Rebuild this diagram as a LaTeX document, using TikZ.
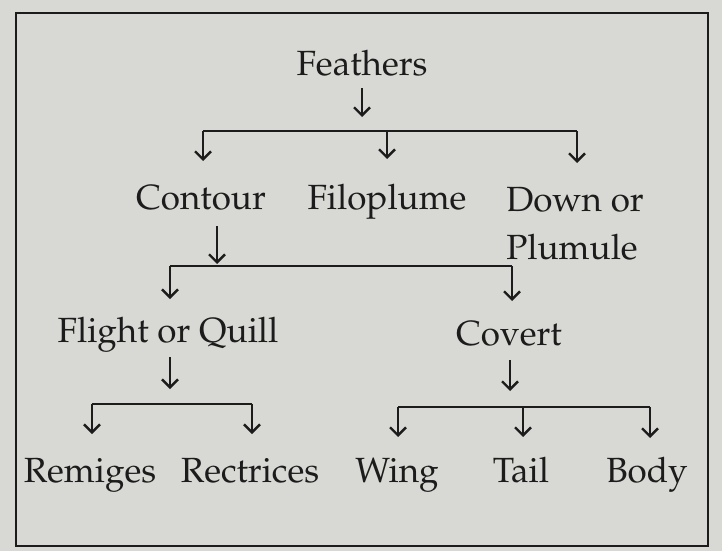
\documentclass[tikz,border=0pt]{standalone}
\usepackage[T1]{fontenc}
\usepackage{mathpazo}
\usetikzlibrary{arrows.meta}
\definecolor{paper}{RGB}{216,216,212}
\definecolor{ink}{RGB}{28,28,28}
\tikzset{
  lbl/.style={anchor=base, inner sep=0pt, text=ink, font=\fontsize{35}{40}\selectfont},
  ln/.style={draw=ink, line width=2.8pt},
  arr/.style={draw=ink, line width=2.4pt, -{Straight Barb[length=8pt,width=16pt,line width=2.4pt]}},
}
\begin{document}
\begin{tikzpicture}[x=1pt,y=-1pt]
\fill[paper] (0,0) rectangle (722,551);
\useasboundingbox (0,0) rectangle (722,551);
\draw[ink, line width=2.8pt] (16,13) rectangle (708,546);
% nodes
\node[lbl] (feathers) at (362,75) {Feathers};
\node[lbl] (contour) at (201,209) {Contour};
\node[lbl] (filo) at (387,209) {Filoplume};
\node[lbl] (down) at (575,211) {Down or};
\node[lbl] (plum) at (572,259) {Plumule};
\node[lbl] (flight) at (168,342) {Flight or Quill};
\node[lbl] (covert) at (509,345) {Covert};
\node[lbl] (rem) at (90,482) {Remiges};
\node[lbl] (rec) at (250,482) {Rectrices};
\node[lbl] (wing) at (397,482) {Wing};
\node[lbl] (tail) at (521,482) {Tail};
\node[lbl] (body) at (647,482) {Body};
% level 1
\coordinate (f0) at (362,88); \coordinate (f1) at (362,117);
\draw[arr] (f0) -- (f1);
\coordinate (a1) at (203,131); \coordinate (a2) at (387,131); \coordinate (a3) at (577,131);
\draw[ln] (a1) -- (a3);
\draw[arr] (a1) -- (203,161);
\draw[arr] (a2) -- (387,159);
\draw[arr] (a3) -- (577,163);
% level 2
\coordinate (c0) at (217,226); \coordinate (c1) at (217,264);
\draw[arr] (c0) -- (c1);
\coordinate (b1) at (170,266); \coordinate (b2) at (512,266);
\draw[ln] (b1) -- (b2);
\draw[arr] (b1) -- (170,299);
\draw[arr] (b2) -- (512,301);
% level 3
\coordinate (q0) at (170,357); \coordinate (q1) at (170,389);
\draw[arr] (q0) -- (q1);
\coordinate (v0) at (510,360); \coordinate (v1) at (510,391);
\draw[arr] (v0) -- (v1);
\coordinate (d1) at (92,404); \coordinate (d2) at (252,404);
\draw[ln] (d1) -- (d2);
\draw[arr] (d1) -- (92,434);
\draw[arr] (d2) -- (252,434);
\coordinate (e1) at (398,407); \coordinate (e2) at (523,407); \coordinate (e3) at (650,407);
\draw[ln] (e1) -- (e3);
\draw[arr] (e1) -- (398,437);
\draw[arr] (e2) -- (523,437);
\draw[arr] (e3) -- (650,438);
\end{tikzpicture}
\end{document}
